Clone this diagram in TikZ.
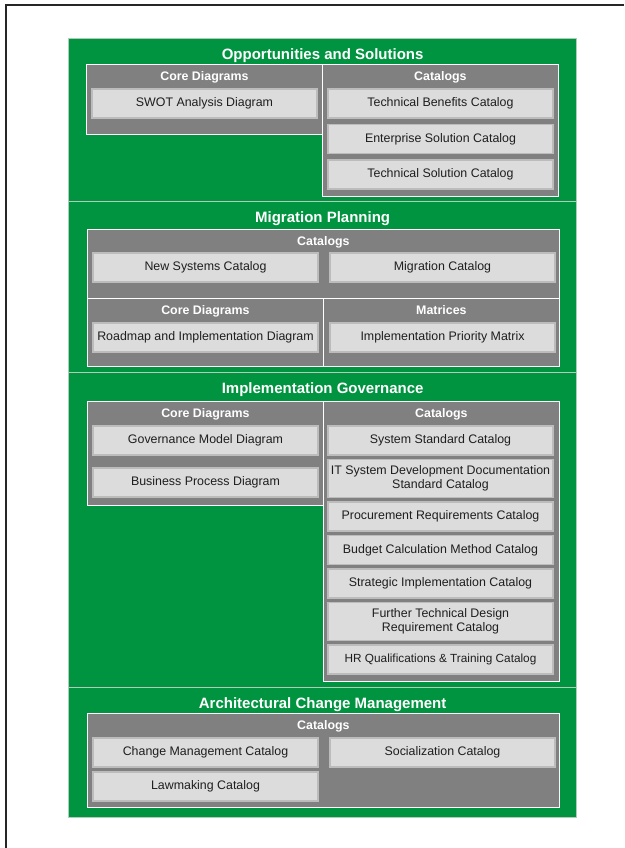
\documentclass[tikz,border=0pt]{standalone}
\usepackage{fontspec}
\setmainfont{Liberation Sans}
\usetikzlibrary{positioning}

\definecolor{bandgreen}{RGB}{0,148,64}
\definecolor{bandedge}{RGB}{175,205,185}
\definecolor{panelgray}{RGB}{128,128,128}
\definecolor{entryfill}{RGB}{220,220,220}
\definecolor{entryedge}{RGB}{188,188,188}
\definecolor{entrytext}{RGB}{30,30,30}

\begin{document}
\begin{tikzpicture}[x=1pt,y=-1pt,
	band/.style={draw=bandedge,line width=1.3pt,fill=bandgreen,anchor=north west,inner sep=0pt,minimum width=508pt},
	panel/.style={draw=white,line width=0.8pt,fill=panelgray,anchor=north west,inner sep=0pt},
	entry/.style={draw=entryedge,line width=1.5pt,fill=entryfill,anchor=north west,inner xsep=1pt,inner ysep=0pt,outer sep=0pt,
		minimum width=225pt,minimum height=29pt,text=entrytext,align=center,font=\fontsize{12.4}{14}\selectfont},
	title/.style={text=white,font=\fontsize{15}{17}\selectfont\bfseries},
	head/.style={text=white,font=\fontsize{12.4}{14}\selectfont\bfseries},
	]
	\useasboundingbox (0,0) rectangle (624,848);
	\draw[line width=1.5pt,black!85] (6,848) -- (6,5) -- (624,5);

	% opportunities and solutions
	\node[band,minimum height=163pt] (opp) at (68,38) {};
	\node[title,below=7.5pt of opp.north] (oppT) {Opportunities and Solutions};
	\node[panel,minimum width=236pt,minimum height=70pt] (oppCore) at (86,64) {};
	\node[head,below=4pt of oppCore.north] (oppCoreH) {Core Diagrams};
	\node[panel,minimum width=236pt,minimum height=132pt] (oppCat) at (322,64) {};
	\node[head,below=4pt of oppCat.north] (oppCatH) {Catalogs};
	\node[entry] (swot) at (92,89) {SWOT Analysis Diagram};
	\node[entry] (techBen) at (328,89) {Technical Benefits Catalog};
	\node[entry,anchor=north,below=6.5pt of techBen] (entSol) {Enterprise Solution Catalog};
	\node[entry,anchor=north,below=6.5pt of entSol] (techSol) {Technical Solution Catalog};

	% migration planning
	\node[band,minimum height=171pt] (mig) at (68,201) {};
	\node[title,below=7.5pt of mig.north] (migT) {Migration Planning};
	\node[panel,minimum width=472pt,minimum height=69pt] (migCat) at (87,229) {};
	\node[head,below=4pt of migCat.north] (migCatH) {Catalogs};
	\node[panel,minimum width=236pt,minimum height=68pt] (migCore) at (87,298) {};
	\node[head,below=4pt of migCore.north] (migCoreH) {Core Diagrams};
	\node[panel,minimum width=236pt,minimum height=68pt] (migMat) at (323,298) {};
	\node[head,below=4pt of migMat.north] (migMatH) {Matrices};
	\node[entry] (newSys) at (93,253) {New Systems Catalog};
	\node[entry] (migCatE) at (330,253) {Migration Catalog};
	\node[entry] (roadmap) at (93,323) {Roadmap and Implementation Diagram};
	\node[entry] (implPri) at (330,323) {Implementation Priority Matrix};

	% implementation governance
	\node[band,minimum height=315pt] (gov) at (68,372) {};
	\node[title,below=7.5pt of gov.north] (govT) {Implementation Governance};
	\node[panel,minimum width=236pt,minimum height=104pt] (govCore) at (87,401) {};
	\node[head,below=4pt of govCore.north] (govCoreH) {Core Diagrams};
	\node[panel,minimum width=236pt,minimum height=280pt] (govCat) at (323,401) {};
	\node[head,below=4pt of govCat.north] (govCatH) {Catalogs};
	\node[entry] (govModel) at (93,426) {Governance Model Diagram};
	\node[entry,anchor=north,below=13pt of govModel] (busProc) {Business Process Diagram};
	\node[entry] (sysStd) at (328,426) {System Standard Catalog};
	\node[entry,anchor=north,below=4.5pt of sysStd,minimum height=38pt] (itDoc) {IT System Development Documentation\\Standard Catalog};
	\node[entry,anchor=north,below=4.5pt of itDoc] (procure) {Procurement Requirements Catalog};
	\node[entry,anchor=north,below=4.5pt of procure] (budget) {Budget Calculation Method Catalog};
	\node[entry,anchor=north,below=4.5pt of budget] (strat) {Strategic Implementation Catalog};
	\node[entry,anchor=north,below=4.5pt of strat,minimum height=38pt] (further) {Further Technical Design\\Requirement Catalog};
	\node[entry,anchor=north,below=4.5pt of further,font=\fontsize{11.8}{13}\selectfont] (hrQual) {HR Qualifications \& Training Catalog};

	% architectural change management
	\node[band,minimum height=130pt] (acm) at (68,687) {};
	\node[title,below=7.5pt of acm.north] (acmT) {Architectural Change Management};
	\node[panel,minimum width=472pt,minimum height=94pt] (acmCat) at (87,713) {};
	\node[head,below=4pt of acmCat.north] (acmCatH) {Catalogs};
	\node[entry] (change) at (93,738) {Change Management Catalog};
	\node[entry] (social) at (330,738) {Socialization Catalog};
	\node[entry,anchor=north,below=5pt of change] (lawmaking) {Lawmaking Catalog};
\end{tikzpicture}
\end{document}
